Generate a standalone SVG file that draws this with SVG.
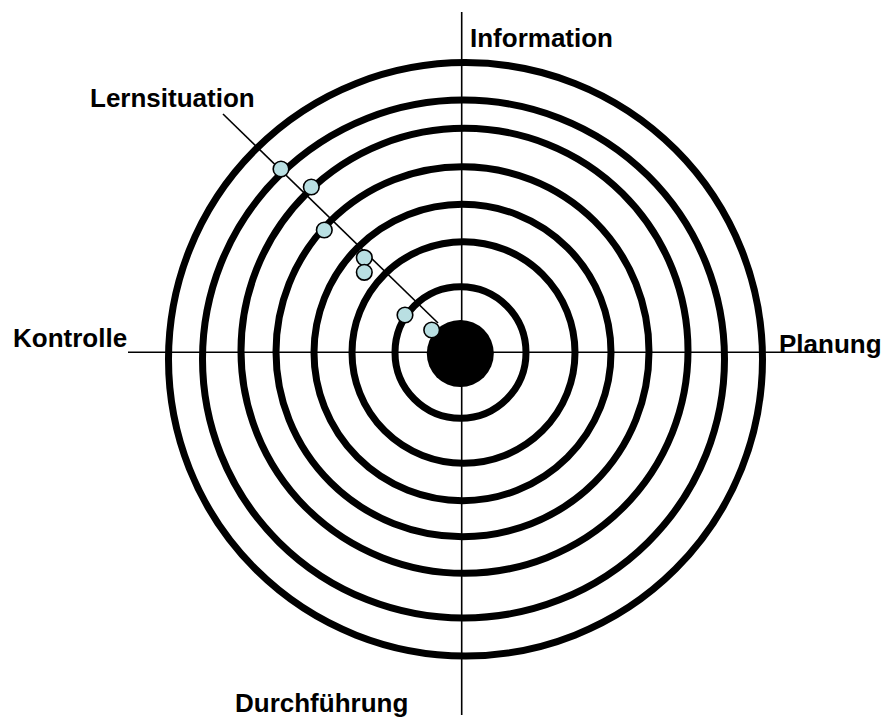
<svg xmlns="http://www.w3.org/2000/svg" width="885" height="719" viewBox="0 0 885 719">
<style>
.ring{fill:none;stroke:#000;stroke-width:7}
.axis{stroke:#000;stroke-width:1.6;fill:none}
.pt{fill:#b9dfe2;stroke:#000;stroke-width:1.6}
.lbl{font-family:"Liberation Sans",Arial,sans-serif;font-weight:bold;font-size:26px;fill:#000}
</style>
<rect width="885" height="719" fill="#fff"/>
<g id="rings">
<ellipse class="ring" cx="465.5" cy="359.3" rx="297" ry="296.7"/>
<ellipse class="ring" cx="463.5" cy="359" rx="261" ry="259"/>
<ellipse class="ring" cx="464.5" cy="350.8" rx="223.5" ry="222.5"/>
<ellipse class="ring" cx="462.5" cy="351.7" rx="186.5" ry="185"/>
<ellipse class="ring" cx="462.5" cy="352.5" rx="148.5" ry="148.2"/>
<ellipse class="ring" cx="463.5" cy="352.5" rx="111.5" ry="110.8"/>
<ellipse class="ring" cx="460.5" cy="352.5" rx="65.5" ry="65.8"/>
</g>
<g id="connectors">
<line class="axis" x1="461.7" y1="12" x2="461.7" y2="715"/>
<line class="axis" x1="128" y1="352.3" x2="826" y2="352.3"/>
<line class="axis" x1="223" y1="114" x2="438" y2="323"/>
</g>
<g id="center"><circle cx="460.3" cy="353.5" r="33.5" fill="#000"/></g>
<g id="points">
<circle class="pt" cx="281" cy="169" r="7.8"/>
<circle class="pt" cx="311.3" cy="187" r="7.8"/>
<circle class="pt" cx="324.3" cy="230" r="7.8"/>
<circle class="pt" cx="364.3" cy="257.7" r="7.8"/>
<circle class="pt" cx="364.3" cy="272.3" r="7.8"/>
<circle class="pt" cx="405" cy="315" r="7.8"/>
<circle class="pt" cx="431.7" cy="330" r="7.8"/>
</g>
<g id="labels">
<text id="information" class="lbl" x="470" y="46.7">Information</text>
<text id="lernsituation" class="lbl" x="90" y="106.7">Lernsituation</text>
<text id="kontrolle" class="lbl" x="13" y="347.3">Kontrolle</text>
<text id="planung" class="lbl" x="779" y="352.5">Planung</text>
<text id="durchfuehrung" class="lbl" x="235" y="711.7">Durchführung</text>
</g>
</svg>
